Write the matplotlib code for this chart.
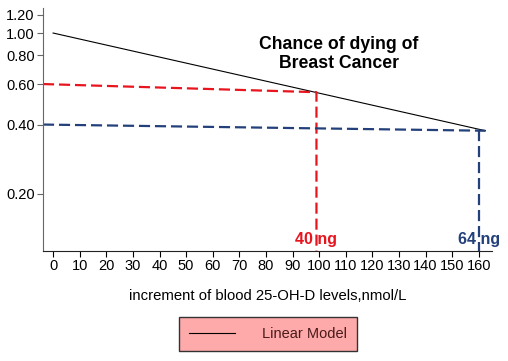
import matplotlib.pyplot as plt
from matplotlib.ticker import FixedLocator, NullLocator, FormatStrFormatter

plt.rcParams['font.family'] = ['Liberation Sans', 'DejaVu Sans']

# linear model (on log axis)
model_x = [0, 162.5]
model_y = [1.0, 0.376]

# red guide: 40 ng
red_x = [-3.8, 99, 99]
red_y = [0.60, 0.553, 0.1128]

# blue guide: 64 ng
blue_h_x = [-3.8, 162.5]
blue_h_y = [0.40, 0.376]
blue_v_x = [160, 160]
blue_v_y = [0.377, 0.1128]

xticks = list(range(0, 161, 10))
yticks = [0.20, 0.40, 0.60, 0.80, 1.00, 1.20]

fig = plt.figure(figsize=(5.08, 3.61), dpi=100)
ax = fig.add_axes([0.0846, 0.3047, 0.884, 0.673])

ax.plot(model_x, model_y, color='black', lw=0.8, label='Linear Model')
ax.plot(red_x, red_y, color='#e8141e', lw=1.6, ls=(0, (5, 2.2)))
ax.plot(blue_h_x, blue_h_y, color='#23407a', lw=1.6, ls=(0, (5, 2.2)))
ax.plot(blue_v_x, blue_v_y, color='#23407a', lw=1.6, ls=(0, (5, 2.2)))

ax.set_yscale('log')
ax.set_xlim(-3.8, 165)
ax.set_ylim(0.1128, 1.284)
ax.yaxis.set_major_locator(FixedLocator(yticks))
ax.yaxis.set_minor_locator(NullLocator())
ax.yaxis.set_major_formatter(FormatStrFormatter('%.2f'))
ax.set_xticks(xticks)

ax.spines['top'].set_visible(False)
ax.spines['right'].set_visible(False)
ax.spines['left'].set_color('#666666')
ax.spines['bottom'].set_color('#222222')
ax.tick_params(axis='both', direction='out', length=4, width=0.8, labelsize=10.5, pad=2)
ax.tick_params(axis='y', colors='#666666', labelcolor='black')

ax.set_xlabel('increment of blood 25-OH-D levels,nmol/L', fontsize=10.7, labelpad=11)

ax.text(99, 0.117, '40 ng', color='#e8141e', fontsize=11.5, fontweight='bold',
        ha='center', va='bottom')
ax.text(160, 0.117, '64 ng', color='#23407a', fontsize=11.5, fontweight='bold',
        ha='center', va='bottom')

ax.text(107.5, 0.97, 'Chance of dying of\nBreast Cancer', fontsize=12.7,
        fontweight='bold', ha='center', va='top', linespacing=1.15)

leg = fig.legend(loc='center', bbox_to_anchor=(0.527, 0.074), frameon=True,
                 fancybox=False, fontsize=10.5, handlelength=3.2, handletextpad=1.8,
                 borderpad=0.7, borderaxespad=0)
leg.get_frame().set_facecolor('#ffaaaa')
leg.get_frame().set_edgecolor('#333333')
leg.get_frame().set_alpha(1)
for t in leg.get_texts():
    t.set_color('#4a1a1a')

fig.savefig('out.png', dpi=100)
